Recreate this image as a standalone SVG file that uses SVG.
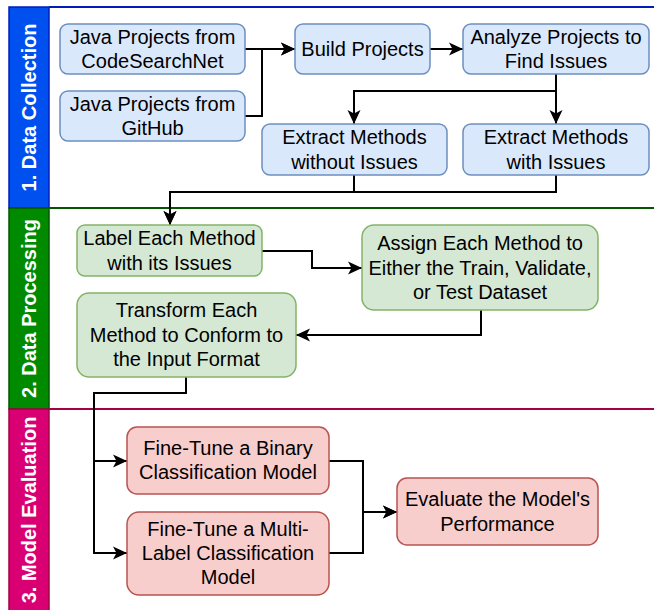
<svg xmlns="http://www.w3.org/2000/svg" width="654" height="610" viewBox="0 0 654 610">
<defs>
<style>
text{font-family:"Liberation Sans",Arial,sans-serif;font-size:20px;fill:#000;text-anchor:middle}
.lt{font-weight:bold;fill:#fff}
.b rect{fill:#dae8fc;stroke:#6c8ebf;stroke-width:1.5}
.g rect{fill:#d5e8d4;stroke:#82b366;stroke-width:1.5}
.r rect{fill:#f8cecc;stroke:#b85450;stroke-width:1.5}
.c path{fill:none;stroke:#000;stroke-width:2;marker-end:url(#ah)}
</style>
<marker id="ah" markerUnits="userSpaceOnUse" markerWidth="16" markerHeight="16" refX="14" refY="8" orient="auto">
<path d="M0,1.5 L14,8 L0,14.5 L3.5,8 Z" fill="#000"/>
</marker>
</defs>
<rect width="654" height="610" fill="#fff"/>
<g id="lanes">
<g id="lane1">
<rect x="9" y="7" width="40" height="201" fill="#0050ef" stroke="#001dbc" stroke-width="1.5"/>
<line x1="49" y1="7" x2="654" y2="7" stroke="#001dbc" stroke-width="2"/>
<text class="lt" transform="translate(36,107.5) rotate(-90)">1. Data Collection</text>
</g>
<g id="lane2">
<rect x="9" y="208" width="40" height="201" fill="#008a00" stroke="#005700" stroke-width="1.5"/>
<line x1="49" y1="208" x2="654" y2="208" stroke="#005700" stroke-width="2"/>
<text class="lt" transform="translate(36,308.5) rotate(-90)">2. Data Processing</text>
</g>
<g id="lane3">
<rect x="9" y="409" width="40" height="203" fill="#d80073" stroke="#a50040" stroke-width="1.5"/>
<line x1="49" y1="409" x2="654" y2="409" stroke="#a50040" stroke-width="2"/>
<text class="lt" transform="translate(36,510) rotate(-90)">3. Model Evaluation</text>
</g>
</g>
<g id="connectors" class="c">
<path d="M245,49 H295"/>
<path d="M245,116 H262 V49 H295"/>
<path d="M430,49 H463"/>
<path d="M556,74 V124"/>
<path d="M556,74 V91 H354 V124"/>
<path d="M354,175 V192 H170 V225"/>
<path d="M556,175 V192 H170 V225"/>
<path d="M262,251 H312 V268 H362"/>
<path d="M481,310 V335 H296"/>
<path d="M186,377 V393 H94 V461 H127"/>
<path d="M186,377 V393 H94 V553 H127"/>
<path d="M329,461 H363 V512 H397"/>
<path d="M329,553 H363 V512 H397"/>
</g>
<g id="n1" class="b"><rect x="60" y="24" width="185" height="50" rx="8"/><text x="152.5" y="44">Java Projects from</text><text x="152.5" y="68">CodeSearchNet</text></g>
<g id="n2" class="b"><rect x="60" y="91" width="185" height="50" rx="8"/><text x="152.5" y="111">Java Projects from</text><text x="152.5" y="135">GitHub</text></g>
<g id="n3" class="b"><rect x="295" y="24" width="135" height="50" rx="8"/><text x="362.5" y="56">Build Projects</text></g>
<g id="n4" class="b"><rect x="463" y="24" width="186" height="50" rx="8"/><text x="556" y="44">Analyze Projects to</text><text x="556" y="68">Find Issues</text></g>
<g id="n5" class="b"><rect x="262" y="124" width="185" height="51" rx="8"/><text x="354.5" y="144">Extract Methods</text><text x="354.5" y="169">without Issues</text></g>
<g id="n6" class="b"><rect x="463" y="124" width="186" height="51" rx="8"/><text x="556" y="144">Extract Methods</text><text x="556" y="169">with Issues</text></g>
<g id="n7" class="g"><rect x="77" y="225" width="185" height="51" rx="8"/><text x="169.5" y="245">Label Each Method</text><text x="169.5" y="270">with its Issues</text></g>
<g id="n8" class="g"><rect x="362" y="225" width="236" height="85" rx="12"/><text x="480" y="250">Assign Each Method to</text><text x="480" y="274.5">Either the Train, Validate,</text><text x="480" y="299">or Test Dataset</text></g>
<g id="n9" class="g"><rect x="77" y="293" width="219" height="84" rx="12"/><text x="186.5" y="317">Transform Each</text><text x="186.5" y="341.5">Method to Conform to</text><text x="186.5" y="366">the Input Format</text></g>
<g id="n10" class="r"><rect x="127" y="427" width="202" height="67" rx="10"/><text x="228" y="455">Fine-Tune a Binary</text><text x="228" y="479">Classification Model</text></g>
<g id="n11" class="r"><rect x="127" y="512" width="202" height="83" rx="12"/><text x="228" y="536">Fine-Tune a Multi-</text><text x="228" y="560">Label Classification</text><text x="228" y="584">Model</text></g>
<g id="n12" class="r"><rect x="397" y="478" width="201" height="67" rx="10"/><text x="497.5" y="506">Evaluate the Model's</text><text x="497.5" y="531">Performance</text></g>
</svg>
